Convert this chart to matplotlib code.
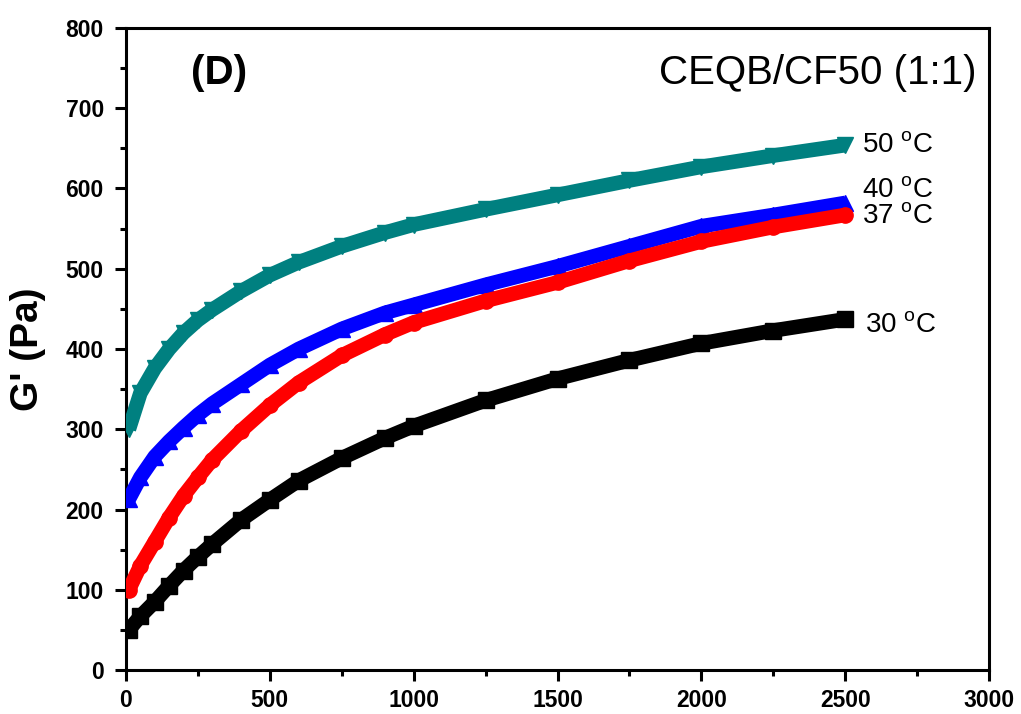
import matplotlib
matplotlib.use("Agg")
import matplotlib.pyplot as plt
from matplotlib.ticker import MultipleLocator

plt.rcParams['font.family'] = ['Liberation Sans', 'DejaVu Sans']
plt.rcParams['mathtext.fontset'] = 'custom'
plt.rcParams['mathtext.rm'] = 'Liberation Sans'
plt.rcParams['mathtext.it'] = 'Liberation Sans:italic'
plt.rcParams['mathtext.bf'] = 'Liberation Sans:bold'

time_s = [10, 50, 100, 150, 200, 250, 300, 400, 500, 600, 750, 900, 1000,
          1250, 1500, 1750, 2000, 2250, 2500]
g30 = [50, 67, 85, 105, 124, 141, 157, 187, 212, 236, 264, 289, 304,
       336, 363, 386, 407, 423, 437]
g37 = [100, 130, 160, 190, 217, 240, 262, 298, 330, 358, 392, 418, 433,
       460, 483, 510, 534, 552, 567]
g40 = [213, 240, 266, 285, 302, 318, 332, 356, 380, 400, 425, 445, 455,
       480, 503, 528, 553, 567, 582]
g50 = [300, 345, 376, 400, 420, 436, 449, 472, 492, 508, 528, 545, 555,
       574, 592, 610, 627, 641, 654]

series = [
    (g30, 'black', 's', '30 $^{\\mathrm{o}}$C', (2569, 430), 2),
    (g40, '#0000ff', '^', '40 $^{\\mathrm{o}}$C', (2558, 598), 3),
    (g37, '#ff0000', 'o', '37 $^{\\mathrm{o}}$C', (2558, 566), 4),
    (g50, '#008080', 'v', '50 $^{\\mathrm{o}}$C', (2558, 654), 5),
]

fig = plt.figure(figsize=(10.21, 7.14), dpi=100)
ax = fig.add_axes([0.1234, 0.0616, 0.8453, 0.8992])

for vals, col, mk, lab, pos, z in series:
    ax.plot(time_s, vals, color=col, lw=10.5, solid_capstyle='butt',
            solid_joinstyle='round', zorder=z)
    ax.plot(time_s, vals, color=col, marker=mk, ms=11, lw=0, zorder=z)
    ax.text(pos[0], pos[1], lab, fontsize=20, va='center', ha='left')

ax.set_xlim(0, 3000)
ax.set_ylim(0, 800)
ax.xaxis.set_major_locator(MultipleLocator(500))
ax.xaxis.set_minor_locator(MultipleLocator(250))
ax.yaxis.set_major_locator(MultipleLocator(100))
ax.yaxis.set_minor_locator(MultipleLocator(50))
ax.tick_params(which='major', direction='out', length=8, width=2.2, labelsize=16.5)
ax.tick_params(axis='y', which='major', pad=8)
ax.tick_params(axis='x', which='major', pad=6)
ax.tick_params(which='minor', direction='out', length=4, width=2.2)
for lbl in ax.get_xticklabels() + ax.get_yticklabels():
    lbl.set_fontweight('bold')
for sp in ax.spines.values():
    sp.set_linewidth(2.2)

ax.set_ylabel("G' (Pa)", fontsize=28, fontweight='bold', labelpad=14)

ax.text(0.075, 0.93, '(D)', transform=ax.transAxes, fontsize=29,
        fontweight='bold', va='center', ha='left')
ax.text(0.985, 0.93, 'CEQB/CF50 (1:1)', transform=ax.transAxes, fontsize=29,
        va='center', ha='right')

fig.savefig('out.png', dpi=100)
